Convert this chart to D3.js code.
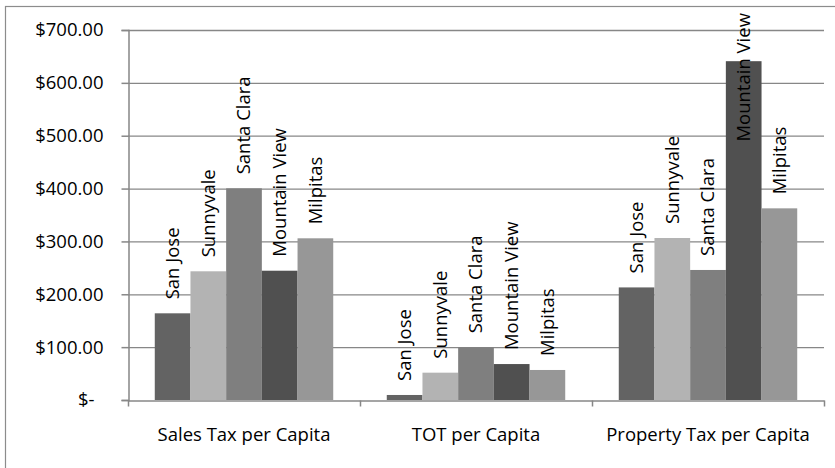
<!DOCTYPE html>
<html>
<head>
<meta charset="utf-8">
<script src="https://cdn.jsdelivr.net/npm/d3@7"></script>
<style>
  body { margin: 0; background: #fff; }
  text { font-family: "Open Sans", sans-serif; fill: #000; }
</style>
</head>
<body>
<svg width="835" height="468"></svg>
<script>
// chart data
var categories = ["Sales Tax per Capita", "TOT per Capita", "Property Tax per Capita"];
var cities = ["San Jose", "Sunnyvale", "Santa Clara", "Mountain View", "Milpitas"];
var sanJose = [164, 9.5, 213];
var sunnyvale = [243.5, 51.7, 306.5];
var santaClara = [400.5, 99.6, 246];
var mountainView = [244.6, 68, 641];
var milpitas = [305.9, 56.8, 362.6];
var yTicks = [0, 100, 200, 300, 400, 500, 600, 700];

var seriesValues = [sanJose, sunnyvale, santaClara, mountainView, milpitas];
var colors = ["#636363", "#b3b3b3", "#7f7f7f", "#505050", "#979797"];

var fontSize = "18.5px";

// dimensions of the plot area
var margin = { top: 30, right: 11, bottom: 68, left: 128 },
    width = 835 - margin.left - margin.right,
    height = 468 - margin.top - margin.bottom;

var svg = d3.select("svg");

// outer chart border (cut off at right and bottom)
svg.append("rect")
    .attr("x", 5.5).attr("y", 6.5)
    .attr("width", 840).attr("height", 470)
    .attr("fill", "none")
    .attr("stroke", "#8c8c8c")
    .attr("stroke-width", 1.2);

var g = svg.append("g")
    .attr("transform", "translate(" + margin.left + "," + margin.top + ")");

var x0 = d3.scaleBand()
    .domain(categories)
    .range([0, width]);

// Excel gap width 150%: group occupies 5/6.5 of the band
var groupW = x0.bandwidth() * 5 / 6.5;
var x1 = d3.scaleBand()
    .domain(cities)
    .range([(x0.bandwidth() - groupW) / 2, (x0.bandwidth() + groupW) / 2]);

var y = d3.scaleLinear()
    .domain([0, 700])
    .range([height, 0]);

// gridlines
g.selectAll(".grid")
    .data(yTicks.slice(1))
    .enter().append("line")
    .attr("x1", 0).attr("x2", width)
    .attr("y1", function (d) { return y(d) + 0.5; })
    .attr("y2", function (d) { return y(d) + 0.5; })
    .attr("stroke", "#878787")
    .attr("stroke-width", 1.3);

// y axis
var yAxis = g.append("g")
    .attr("transform", "translate(0.5,0)")
    .call(d3.axisLeft(y)
        .tickValues(yTicks)
        .tickSize(7)
        .tickPadding(18)
        .tickFormat(function (d) { return d === 0 ? "$-" : d3.format("$,.2f")(d); }));
yAxis.select(".domain").attr("stroke", "#878787").attr("stroke-width", 1.5);
yAxis.selectAll(".tick line").attr("stroke", "#878787").attr("stroke-width", 1.5);
yAxis.selectAll(".tick text")
    .style("font-size", fontSize)
    .attr("fill", "#000")
    .attr("dx", function (d) { return d === 0 ? -9 : 0; });

// bars
var groups = g.selectAll(".group")
    .data(categories)
    .enter().append("g")
    .attr("class", "group")
    .attr("transform", function (d) { return "translate(" + x0(d) + ",0)"; });

groups.each(function (c, ci) {
    var grp = d3.select(this);
    var data = cities.map(function (city, si) {
        return { city: city, value: seriesValues[si][ci], color: colors[si] };
    });

    grp.selectAll("rect")
        .data(data)
        .enter().append("rect")
        .attr("x", function (d) { return x1(d.city); })
        .attr("width", x1.bandwidth())
        .attr("y", function (d) { return y(d.value); })
        .attr("height", function (d) { return height - y(d.value); })
        .attr("fill", function (d) { return d.color; });

    // rotated labels above bars, kept inside chart area
    grp.selectAll(".lbl")
        .data(data)
        .enter().append("text")
        .attr("class", "lbl")
        .style("font-size", fontSize)
        .attr("dy", "0.35em")
        .text(function (d) { return d.city; })
        .each(function (d) {
            var len = this.getComputedTextLength();
            var start = y(d.value) - 14;
            var minStart = 13 - margin.top + len;
            if (start < minStart) start = minStart;
            var cx = x1(d.city) + x1.bandwidth() / 2;
            d3.select(this).attr("transform",
                "translate(" + cx + "," + start + ") rotate(-90)");
        });
});

// x axis
var xAxis = g.append("g")
    .attr("transform", "translate(0," + (height + 0.5) + ")")
    .call(d3.axisBottom(x0).tickSize(0).tickPadding(27));
xAxis.select(".domain").attr("stroke", "#878787").attr("stroke-width", 1.5);
xAxis.selectAll(".tick text").style("font-size", fontSize).attr("fill", "#000");

// category separator ticks
xAxis.selectAll(".sep")
    .data(d3.range(categories.length + 1))
    .enter().append("line")
    .attr("x1", function (i) { return i * x0.bandwidth() + 0.5; })
    .attr("x2", function (i) { return i * x0.bandwidth() + 0.5; })
    .attr("y1", 0).attr("y2", 6)
    .attr("stroke", "#878787")
    .attr("stroke-width", 1.5);
</script>
</body>
</html>
